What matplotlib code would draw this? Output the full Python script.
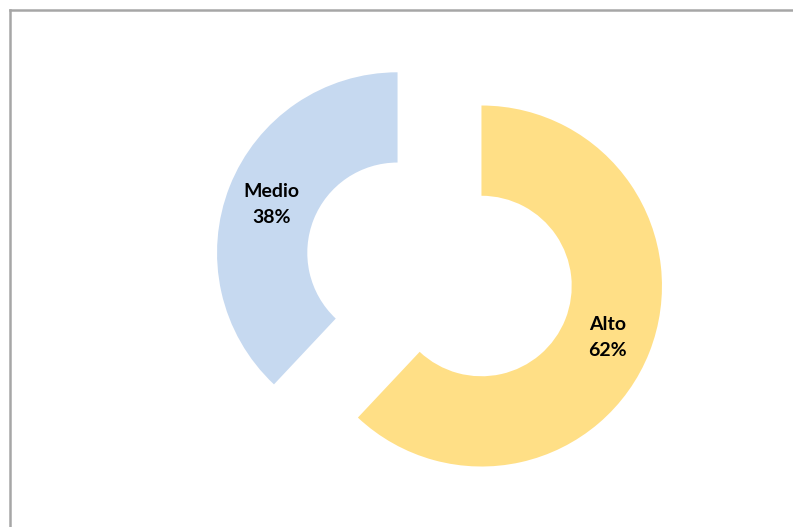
import math
import matplotlib
matplotlib.use("Agg")
import matplotlib.pyplot as plt
from matplotlib.lines import Line2D

# nivel de riesgo
categorias = ["Alto", "Medio"]
porcentajes = [62, 38]
colores = ["#FFDF86", "#C6D9F0"]

fig = plt.figure(figsize=(7.93, 5.27), dpi=100)
ax = fig.add_axes([0, 0, 1, 1])

wedges, _ = ax.pie(porcentajes, colors=colores, startangle=90, counterclock=False,
                   explode=[0.25, 0.25], radius=1,
                   wedgeprops=dict(width=0.5, linewidth=0))

# centre of the chart in pixels and outer radius (pie resets the limits, so set them after)
cx, cy, R = 439.5, 269.4, 180.5
W, H = 793, 527
ax.set_aspect("auto")
ax.set_xlim(-cx / R, (W - cx) / R)
ax.set_ylim(-(H - cy) / R, cy / R)
ax.axis("off")

for w, cat, p in zip(wedges, categorias, porcentajes):
    ang = math.radians((w.theta1 + w.theta2) / 2)
    x0, y0 = w.center
    ax.text(x0 + 0.75 * math.cos(ang), y0 + 0.75 * math.sin(ang) - 0.01,
            f"{cat}\n{p}%", ha="center", va="center", fontsize=14,
            fontweight="bold", family="Lato", linespacing=1.65, color="black")

# frame (only left and top edges fall inside the image)
fig.add_artist(Line2D([9.5 / W, 9.5 / W], [0, 1 - 9.5 / H], transform=fig.transFigure,
                      color="#A6A6A6", lw=1.8))
fig.add_artist(Line2D([9.5 / W, 1], [1 - 9.5 / H, 1 - 9.5 / H], transform=fig.transFigure,
                      color="#A6A6A6", lw=1.8))

fig.savefig("out.png", dpi=100)
